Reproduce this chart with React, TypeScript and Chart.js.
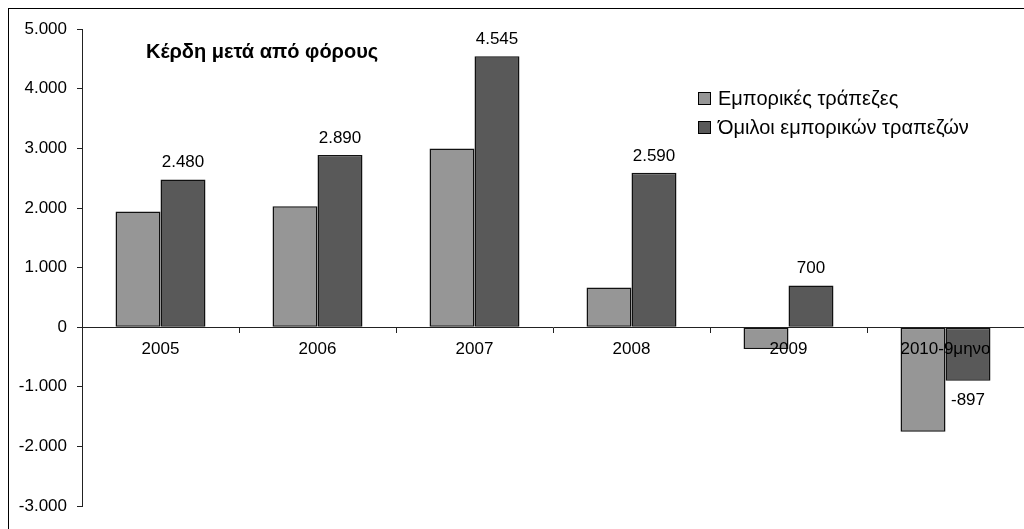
import React, { useEffect, useRef } from "react";
import { Chart, registerables } from "chart.js";

Chart.register(...registerables);

const categories = ["2005", "2006", "2007", "2008", "2009", "2010-9μηνο"];
const commercialBanks = [1940, 2030, 3000, 665, -365, -1755];
const bankGroups = [2480, 2890, 4545, 2590, 700, -897];
const seriesNames = ["Εμπορικές τράπεζες", "Όμιλοι εμπορικών τραπεζών"];
const seriesColors = ["#969696", "#595959"];
const chartTitle = "Κέρδη μετά από φόρους";
const yMin = -3000;
const yMax = 5000;
const yStep = 1000;

const FONT = "'Liberation Sans', Arial, Helvetica, sans-serif";

function fmt(v: number): string {
  const s = Math.abs(Math.round(v)).toString().replace(/\B(?=(\d{3})+(?!\d))/g, ".");
  return (v < 0 ? "-" : "") + s;
}

const overlayPlugin = {
  id: "overlay",
  afterDatasetsDraw(chart: any) {
    const ctx = chart.ctx;
    ctx.save();
    const meta = chart.getDatasetMeta(1);
    const data = chart.data.datasets[1].data as number[];
    ctx.font = `17px ${FONT}`;
    ctx.fillStyle = "#000";
    ctx.textAlign = "center";
    ctx.textBaseline = "alphabetic";
    meta.data.forEach((bar: any, i: number) => {
      const v = data[i];
      if (v >= 0) ctx.fillText(fmt(v), bar.x, bar.y - 12);
      else ctx.fillText(fmt(v), bar.x, bar.y + 24);
    });
    ctx.restore();
  },
  afterDraw(chart: any) {
    const ctx = chart.ctx;
    ctx.save();
    ctx.font = `bold 20px ${FONT}`;
    ctx.fillStyle = "#000";
    ctx.textAlign = "left";
    ctx.textBaseline = "alphabetic";
    ctx.fillText(chartTitle, 137, 49);
    const lx = 689.5;
    const ly = 83.5;
    const rowH = 29;
    const box = 12;
    chart.data.datasets.forEach((ds: any, i: number) => {
      const y = ly + i * rowH;
      ctx.fillStyle = ds.backgroundColor;
      ctx.fillRect(lx, y, box, box);
      ctx.strokeStyle = "#000";
      ctx.lineWidth = 1;
      ctx.strokeRect(lx, y, box, box);
      ctx.fillStyle = "#000";
      ctx.font = `20px ${FONT}`;
      ctx.fillText(ds.label, lx + 19.5, y + box);
    });
    ctx.restore();
  },
};

export default function App() {
  const canvasRef = useRef<HTMLCanvasElement | null>(null);

  useEffect(() => {
    if (!canvasRef.current) return;
    Chart.defaults.font.family = FONT;
    const chart = new Chart(canvasRef.current, {
      type: "bar",
      data: {
        labels: categories,
        datasets: [
          {
            label: seriesNames[0],
            data: commercialBanks,
            backgroundColor: seriesColors[0],
            borderColor: "#111",
            borderWidth: 1.5,
            borderSkipped: false,
            categoryPercentage: 0.573,
            barPercentage: 1,
          },
          {
            label: seriesNames[1],
            data: bankGroups,
            backgroundColor: seriesColors[1],
            borderColor: "#111",
            borderWidth: 1.5,
            borderSkipped: false,
            categoryPercentage: 0.573,
            barPercentage: 1,
          },
        ],
      },
      options: {
        animation: false,
        responsive: false,
        maintainAspectRatio: false,
        events: [],
        layout: { padding: { top: 20, bottom: 23, left: 0, right: 0 } },
        plugins: {
          legend: { display: false },
          title: { display: false },
          tooltip: { enabled: false },
        },
        scales: {
          x: {
            position: { y: 0 } as any,
            offset: true,
            grid: {
              display: true,
              drawOnChartArea: false,
              drawTicks: true,
              tickLength: 5,
              offset: true,
              color: "#222",
              z: 1,
            },
            border: { display: true, color: "#222", width: 1, z: 1 },
            ticks: {
              z: 1,
              color: "#000",
              font: { size: 17, family: FONT },
              padding: 7,
              maxRotation: 0,
              autoSkip: false,
            },
          },
          y: {
            min: yMin,
            max: yMax,
            afterFit(scale: any) {
              scale.width = 73;
            },
            grid: {
              display: true,
              drawOnChartArea: false,
              drawTicks: true,
              tickLength: 5,
              color: "#222",
            },
            border: { display: true, color: "#222", width: 1 },
            ticks: {
              stepSize: yStep,
              color: "#000",
              font: { size: 17, family: FONT },
              padding: 10,
              callback: (v: any) => fmt(Number(v)),
            },
          },
        },
      },
      plugins: [overlayPlugin],
    });
    return () => chart.destroy();
  }, []);

  return (
    <div
      style={{
        position: "fixed",
        left: 8,
        top: 8,
        width: 1016,
        height: 521,
        borderTop: "1px solid #000",
        borderLeft: "1px solid #000",
        boxSizing: "border-box",
        background: "#fff",
      }}
    >
      <canvas ref={canvasRef} width={1015} height={520} style={{ display: "block" }} />
    </div>
  );
}
